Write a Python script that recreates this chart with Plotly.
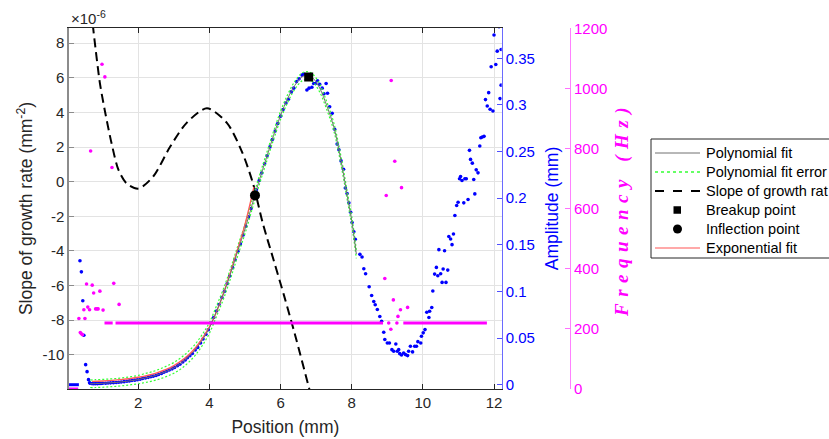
import plotly.graph_objects as go

# ---------------- data ----------------
# Slope of growth rate (units of 1e-6 mm^-2) vs position (mm)
slope_pos = [0.60, 0.73, 0.78, 0.92, 1.06, 1.25, 1.44, 1.67, 2.00, 2.42, 2.89, 3.36, 3.93,
             4.49, 4.90, 5.21, 5.50, 5.80, 6.10, 6.40, 6.81, 6.90]
slope_val = [11.5, 8.9, 8.0, 5.7, 4.1, 2.2, 0.7, -0.1, -0.4, 0.3, 2.0, 3.4, 4.24,
             3.4, 1.8, 0.0, -2.4, -4.5, -6.6, -8.8, -12.0, -12.7]

# Polynomial fit of amplitude (mm)
fit_pos = [0.65, 0.8, 1.0, 1.2, 1.4, 1.6, 1.8, 2.0, 2.2, 2.4, 2.6, 2.8, 3.0, 3.2, 3.4, 3.6,
           3.8, 4.0, 4.2, 4.4, 4.6, 4.8, 5.0, 5.2, 5.4, 5.6, 5.8, 6.0, 6.2, 6.4, 6.6, 6.75,
           6.9, 7.1, 7.3, 7.5, 7.7, 7.9, 8.0, 8.13]
fit_val = [0.0010, 0.0012, 0.0015, 0.0020, 0.0025, 0.0033, 0.0043, 0.0055, 0.0072, 0.0090,
           0.0115, 0.0145, 0.0180, 0.0230, 0.0295, 0.0375, 0.0480, 0.0610, 0.0790, 0.0980,
           0.1200, 0.1440, 0.1670, 0.1930, 0.2190, 0.2430, 0.2670, 0.2890, 0.3070, 0.3210,
           0.3300, 0.3315, 0.3290, 0.3180, 0.2990, 0.2760, 0.2400, 0.1970, 0.1760, 0.1400]
fit_err = [0.0040, 0.0042, 0.0042, 0.0042, 0.0042, 0.0042, 0.0043, 0.0045, 0.0048, 0.0050,
           0.0053, 0.0056, 0.0058, 0.0060, 0.0060, 0.0060, 0.0060, 0.0058, 0.0056, 0.0055,
           0.0053, 0.0052, 0.0050, 0.0048, 0.0046, 0.0045, 0.0044, 0.0043, 0.0042, 0.0042,
           0.0042, 0.0042, 0.0042, 0.0042, 0.0042, 0.0043, 0.0044, 0.0045, 0.0045, 0.0045]

# Exponential fit of amplitude (mm)
exp_pos = [0.70, 1.0, 1.5, 2.0, 2.5, 3.0, 3.5, 4.0, 4.25, 4.5, 4.75, 5.0, 5.25]
exp_val = [0.0035, 0.0040, 0.0055, 0.0080, 0.0125, 0.0205, 0.0350, 0.0620, 0.0830, 0.1100,
           0.1400, 0.1720, 0.2120]

# Amplitude measurements (mm)
amp_pos = [0.36, 0.40, 0.44, 0.47, 0.52, 0.56, 0.60, 0.63,
           0.65, 0.70, 0.75, 0.80, 0.85, 0.90, 0.95, 1.00, 1.08, 1.15, 1.22, 1.30, 1.38, 1.45,
           1.52, 1.60, 1.68, 1.75, 1.82, 1.90, 1.97, 2.05, 2.12, 2.20, 2.28, 2.35, 2.42, 2.50,
           2.57, 2.65, 2.72, 2.80, 2.87, 2.95, 3.02, 3.10, 3.17, 3.25, 3.32, 3.38, 3.45, 3.52,
           3.60, 3.67, 3.75, 3.82, 3.90, 3.97, 4.05, 4.12, 4.20, 4.27, 4.35, 4.42, 4.50, 4.57,
           4.65, 4.72, 4.80, 4.87, 4.95, 5.02, 5.10, 5.17, 5.25, 5.32, 5.40, 5.47, 5.55, 5.62,
           5.70, 5.77, 5.85, 5.92, 6.00, 6.07, 6.15, 6.22, 6.30, 6.37, 6.45, 6.52, 6.60, 6.65,
           6.74, 6.80, 6.88, 6.93, 6.98, 7.04, 7.10, 7.17, 7.22, 7.28, 7.32, 7.38, 7.45, 7.52,
           7.59, 7.64, 7.70, 7.77, 7.82, 7.87, 7.92, 7.97, 8.01, 8.06, 8.10,
           8.23, 8.29, 8.34, 8.39, 8.49, 8.56, 8.62, 8.66, 8.72, 8.79, 8.84, 8.90, 8.93, 9.00,
           9.06, 9.13, 9.18, 9.24, 9.28, 9.32, 9.35, 9.40, 9.46, 9.51, 9.57, 9.60, 9.65, 9.71,
           9.77, 9.82, 9.86, 9.94, 9.96, 10.01, 10.06, 10.11, 10.17, 10.19, 10.25, 10.28,
           10.33, 10.38, 10.42, 10.45, 10.50, 10.54, 10.57, 10.61, 10.65, 10.70, 10.73, 10.78,
           10.82, 10.86, 10.90, 10.95, 10.99, 11.03, 11.06, 11.10, 11.15, 11.18, 11.22, 11.27,
           11.31, 11.34, 11.39, 11.43, 11.46, 11.50, 11.55, 11.60, 11.63, 11.67, 11.72, 11.76,
           11.81, 11.85, 11.89, 11.92, 11.97, 12.00, 12.05, 12.09, 12.14, 12.17, 12.20, 12.20]
amp_val = [0.1330, 0.1210, 0.0900, 0.0530, 0.0215, 0.0140, 0.0054, 0.0020,
           0.0015, 0.0012, 0.0010, 0.0012, 0.0011, 0.0014, 0.0013, 0.0015, 0.0016, 0.0018,
           0.0020, 0.0022, 0.0024, 0.0027, 0.0029, 0.0033, 0.0037, 0.0041, 0.0045, 0.0049,
           0.0053, 0.0059, 0.0066, 0.0072, 0.0079, 0.0085, 0.0092, 0.0100, 0.0110, 0.0121,
           0.0133, 0.0146, 0.0157, 0.0170, 0.0185, 0.0203, 0.0220, 0.0243, 0.0265, 0.0290,
           0.0310, 0.0335, 0.0372, 0.0400, 0.0448, 0.0490, 0.0540, 0.0590, 0.0660, 0.0720,
           0.0790, 0.0860, 0.0935, 0.1000, 0.1085, 0.1165, 0.1255, 0.1340, 0.1430, 0.1510,
           0.1605, 0.1700, 0.1800, 0.1890, 0.2000, 0.2090, 0.2190, 0.2270, 0.2370, 0.2455,
           0.2550, 0.2630, 0.2720, 0.2800, 0.2880, 0.2950, 0.3020, 0.3060, 0.3140, 0.3180,
           0.3250, 0.3280, 0.3320, 0.3330, 0.3160, 0.3180, 0.3190, 0.3230, 0.3230, 0.3260,
           0.3220, 0.3180, 0.3120, 0.3230, 0.3126, 0.2980, 0.2910, 0.2740, 0.2580, 0.2520,
           0.2400, 0.2310, 0.2110, 0.2050, 0.1950, 0.1850, 0.1740, 0.1640, 0.1560,
           0.1398, 0.1370, 0.1244, 0.1190, 0.1050, 0.0957, 0.0892, 0.0857, 0.0806, 0.0731,
           0.0680, 0.0563, 0.0484, 0.0448, 0.0448, 0.0376, 0.0358, 0.0437, 0.0358, 0.0376,
           0.0333, 0.0319, 0.0340, 0.0323, 0.0312, 0.0358, 0.0412, 0.0352, 0.0412, 0.0412,
           0.0462, 0.0448, 0.0519, 0.0556, 0.0591, 0.0777, 0.0720, 0.0788, 0.0828, 0.1005,
           0.1186, 0.1258, 0.1168, 0.1448, 0.1190, 0.1097, 0.1240, 0.1437, 0.1097, 0.1229,
           0.1590, 0.1563, 0.1502, 0.1616, 0.1814, 0.1921, 0.1957, 0.2208, 0.2233, 0.2190,
           0.1950, 0.2208, 0.2208, 0.1986, 0.2513, 0.2416, 0.2376, 0.2201, 0.2046, 0.2304,
           0.2272, 0.2559, 0.2648, 0.2656, 0.2663, 0.3057, 0.2989, 0.3132, 0.2954, 0.3409,
           0.2935, 0.3750, 0.3433, 0.3577, 0.3840, 0.3068, 0.3212, 0.3595]
# zero-amplitude / zero-frequency plateau at the start
zero_pos = [0.052, 0.33]
zero_val = [0.0, 0.0]

# Frequency (Hz): scattered values and the constant plateau
freq_pos = [0.33, 0.37, 0.40, 0.43, 0.47, 0.50, 0.545, 0.58, 0.63, 0.66, 0.705, 0.745,
            0.80, 0.84, 0.87, 0.92, 0.98, 1.01, 1.06, 1.26, 1.31, 1.46,
            8.93, 8.97, 9.04, 9.10, 9.11, 9.17, 9.21, 9.27, 9.30, 9.37, 9.40, 9.57]
freq_val = [235, 188, 184, 181, 264, 235, 350, 273, 264, 793, 346, 320,
            267, 267, 267, 326, 1082, 263, 1040, 738, 352, 282,
            368, 645, 220, 199, 1028, 297, 759, 220, 242, 264, 671, 272]
plateau_freq = 220
plateau_segments = [(1.05, 1.28), (1.36, 8.88), (9.45, 11.80)]

# Marked points
breakup_pos, breakup_amp = [6.79], [0.330]
inflect_pos, inflect_amp = [5.28], [0.203]

legend_labels = ["Polynomial fit", "Polynomial fit error", "Slope of growth rat",
                 "Breakup point", "Inflection point", "Exponential fit"]

# ---------------- figure ----------------
FONT = "Liberation Sans, Arial, sans-serif"
DARK = "#262626"
BLUE = "#0000ff"
MAG = "#ff00ff"
C_POLY = "#707070"
C_ERR = "#33ff33"
C_EXP = "#ff5a5a"

fig = go.Figure()

fig.add_trace(go.Scatter(x=slope_pos, y=slope_val, mode="lines", name=legend_labels[2],
                         line=dict(color="black", width=2, dash="9px,5px", shape="spline",
                                   smoothing=0.8), yaxis="y"))

fig.add_trace(go.Scatter(x=zero_pos, y=zero_val, mode="lines",
                         line=dict(color=BLUE, width=3), yaxis="y2"))
fig.add_trace(go.Scatter(x=amp_pos, y=amp_val, mode="markers",
                         marker=dict(color=BLUE, size=3.6), yaxis="y2"))

upper = [f + e for f, e in zip(fit_val, fit_err)]
lower = [f - e for f, e in zip(fit_val, fit_err)]
for band in (upper, lower):
    fig.add_trace(go.Scatter(x=fit_pos, y=band, mode="lines", name=legend_labels[1],
                             line=dict(color=C_ERR, width=1.2, dash="2px,2px", shape="spline"),
                             yaxis="y2"))
fig.add_trace(go.Scatter(x=exp_pos, y=exp_val, mode="lines", name=legend_labels[5],
                         line=dict(color=C_EXP, width=1.3, shape="spline"), yaxis="y2"))
fig.add_trace(go.Scatter(x=fit_pos, y=fit_val, mode="lines", name=legend_labels[0],
                         line=dict(color=C_POLY, width=1, shape="spline"), yaxis="y2"))
fig.add_trace(go.Scatter(x=breakup_pos, y=breakup_amp, mode="markers", name=legend_labels[3],
                         marker=dict(color="black", size=9, symbol="square"), yaxis="y2"))
fig.add_trace(go.Scatter(x=inflect_pos, y=inflect_amp, mode="markers", name=legend_labels[4],
                         marker=dict(color="black", size=10, symbol="circle"), yaxis="y2"))

fig.add_trace(go.Scatter(x=[zero_pos[0], zero_pos[1] - 0.02], y=zero_val, mode="lines",
                         line=dict(color=MAG, width=3), yaxis="y3"))
for a, b in plateau_segments:
    fig.add_trace(go.Scatter(x=[a, b], y=[plateau_freq, plateau_freq], mode="lines",
                             line=dict(color=MAG, width=3), yaxis="y3"))
fig.add_trace(go.Scatter(x=freq_pos, y=freq_val, mode="markers",
                         marker=dict(color=MAG, size=3.6), yaxis="y3"))

# ---------------- hand-drawn legend box (paper coordinates) ----------------
ML, MT, MB, W, H = 69, 28, 50, 829, 439
PW = 570 - ML
PH = H - MT - MB


def px(x):
    return (x - ML) / PW


def py(y):
    return (H - MB - y) / PH


shapes = [dict(type="rect", xref="paper", yref="paper", x0=px(651), x1=px(845),
               y0=py(258), y1=py(139), line=dict(color=DARK, width=1), fillcolor="white",
               layer="above")]
annotations = []
row_y = [153, 172, 191, 210, 229, 248]
line_styles = {0: dict(color=C_POLY, width=1), 1: dict(color=C_ERR, width=1.3, dash="dot"),
               2: dict(color="black", width=2, dash="dash"), 5: dict(color="#ff8c8c", width=1.3)}
for i, lab in enumerate(legend_labels):
    yy = row_y[i]
    if i in line_styles:
        shapes.append(dict(type="line", xref="paper", yref="paper", x0=px(655), x1=px(700),
                           y0=py(yy), y1=py(yy), line=line_styles[i], layer="above"))
    elif i == 3:
        shapes.append(dict(type="rect", xref="paper", yref="paper", x0=px(673.5), x1=px(681),
                           y0=py(yy + 3.75), y1=py(yy - 3.75), fillcolor="black",
                           line=dict(color="black", width=0), layer="above"))
    else:
        shapes.append(dict(type="circle", xref="paper", yref="paper", x0=px(673), x1=px(682),
                           y0=py(yy + 4.5), y1=py(yy - 4.5), fillcolor="black",
                           line=dict(color="black", width=0), layer="above"))
    annotations.append(dict(text=lab, xref="paper", yref="paper", x=px(704), y=py(yy),
                            xanchor="left", yanchor="middle", showarrow=False,
                            font=dict(size=14.5, color="black")))

annotations.append(dict(text="×10<sup>-6</sup>", xref="paper", yref="paper", x=0, y=1,
                        xanchor="left", yanchor="bottom", showarrow=False,
                        font=dict(size=15, color=DARK), xshift=0, yshift=-1))

x_end = (501.7 - ML) / PW
fig.update_layout(
    width=W, height=H,
    margin=dict(l=ML, r=W - 570, t=MT, b=MB, autoexpand=False),
    paper_bgcolor="white", plot_bgcolor="white",
    font=dict(family=FONT, size=15, color=DARK),
    showlegend=False,
    xaxis=dict(domain=[0, x_end], range=[0.052, 12.216], tickvals=[2, 4, 6, 8, 10, 12],
               ticks="inside", ticklen=5, tickcolor=DARK, showline=True, linecolor=DARK,
               linewidth=1, mirror="ticks", showgrid=True, gridcolor="#e3e3e3", zeroline=False,
               title=dict(text="Position (mm)", font=dict(size=17.5, color=DARK), standoff=10)),
    yaxis=dict(range=[-11.98, 8.88], tickvals=[-10, -8, -6, -4, -2, 0, 2, 4, 6, 8],
               ticktext=["-10", "-8", "-6", "-4", "-2", "0", "2", "4", "6", "8"],
               ticks="inside", ticklen=5, tickcolor="#8c8c8c", showline=True,
               linecolor="#8c8c8c", linewidth=1.5, showgrid=True, gridcolor="#e3e3e3",
               zeroline=False,
               title=dict(text="Slope of growth rate (mm<sup>-2</sup>)",
                          font=dict(size=17.5, color=DARK), standoff=5)),
    yaxis2=dict(overlaying="y", side="right", anchor="x", range=[-0.0046, 0.3825],
                tick0=0, dtick=0.05, ticks="inside", ticklen=5, tickcolor="#5050ff",
                showline=True, linecolor="#6a6aff", linewidth=1, showgrid=False,
                zeroline=False, tickfont=dict(color=BLUE),
                title=dict(text="Amplitude (mm)", font=dict(size=17.5, color=BLUE), standoff=11)),
    yaxis3=dict(overlaying="y", side="right", anchor="free", position=1.0,
                range=[0, 1203], tick0=0, dtick=200, ticks="inside", ticklen=5,
                tickcolor="#ff70ff", showline=True, linecolor="#ff80ff", linewidth=1,
                showgrid=False, zeroline=False, tickfont=dict(color=MAG),
                title=dict(text='<span style="letter-spacing:6.5px"><b><i>Frequency (Hz)</i></b></span>',
                           font=dict(size=19, color=MAG, family="Liberation Serif, serif"),
                           standoff=8)),
    shapes=shapes,
    annotations=annotations,
)

fig.write_html("out.html", config={"displayModeBar": False},
               post_script="document.body.style.margin='0px';")
